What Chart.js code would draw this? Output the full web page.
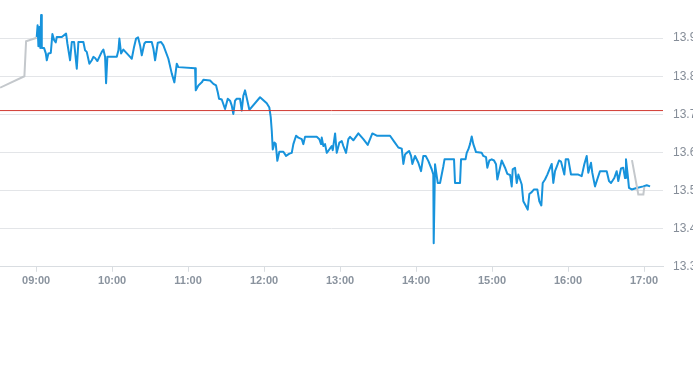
<!DOCTYPE html>
<html>
<head>
<meta charset="utf-8">
<script src="https://cdn.jsdelivr.net/npm/chart.js@4"></script>
<style>
html,body{margin:0;padding:0;background:#fff;}
#wrap{position:relative;width:693px;height:365px;}
</style>
</head>
<body>
<div id="wrap"><canvas id="c"></canvas></div>
<script>
// Intraday price (blue)
const priceTimes = [
"09:00:30","09:01:11","09:01:49","09:02:36","09:03:19","09:03:57","09:04:30","09:06:19","09:07:40","09:08:27",
"09:09:43","09:11:36","09:12:52","09:14:13","09:15:33","09:16:20","09:20:17","09:23:41","09:24:42","09:26:50",
"09:28:11","09:30:00","09:32:08","09:33:24","09:37:20","09:38:41","09:40:00","09:42:05","09:43:58","09:45:14",
"09:46:35","09:48:24","09:49:58","09:51:52","09:53:08","09:54:28","09:55:16","09:56:17","10:03:43","10:05:00",
"10:05:46","10:07:06","10:08:55","10:14:13","10:15:33","10:17:22","10:18:57","10:20:32","10:22:07","10:23:27",
"10:25:30","10:26:36","10:31:20","10:32:36","10:33:57","10:36:05","10:38:41","10:40:30","10:44:27","10:47:08",
"10:49:11","10:51:05","10:52:20","11:05:32","11:06:05","11:08:08","11:10:49","11:12:05","11:17:22","11:20:00",
"11:22:07","11:23:27","11:24:28","11:26:36","11:29:12","11:31:20","11:33:09","11:34:29","11:35:45","11:37:06",
"11:38:26","11:41:03","11:42:23","11:43:39","11:45:00","11:48:24","11:56:50","12:02:07","12:04:11","12:05:17",
"12:06:05","12:06:52","12:07:20","12:08:08","12:09:13","12:10:29","12:12:04","12:15:14","12:17:22","12:20:00",
"12:21:52","12:23:08","12:25:16","12:27:05","12:29:46","12:31:02","12:32:22","12:41:36","12:43:40","12:45:00",
"12:45:33","12:46:49","12:48:10","12:49:30","12:51:34","12:53:26","12:54:14","12:56:05","12:57:24","12:59:28",
"13:01:20","13:02:36","13:04:44","13:06:33","13:07:54","13:10:30","13:14:27","13:18:24","13:21:52","13:25:30",
"13:28:58","13:39:28","13:42:52","13:46:02","13:48:43","13:50:00","13:51:20","13:52:40","13:54:29","13:56:04",
"13:57:05","13:59:13","14:01:49","14:03:57","14:05:45","14:07:38","14:09:41","14:12:22","14:13:38","14:13:57",
"14:15:00","14:17:08","14:18:57","14:21:34","14:22:30","14:30:00","14:30:47","14:34:44","14:35:32","14:39:05",
"14:40:01","14:41:17","14:42:38","14:43:58","14:45:14","14:47:22","14:51:52","14:53:08","14:55:16","14:56:17",
"14:57:53","14:59:46","15:01:35","15:03:10","15:04:11","15:06:19","15:07:39","15:10:16","15:12:05","15:14:13",
"15:15:33","15:16:20","15:18:09","15:19:30","15:20:46","15:22:07","15:23:27","15:24:43","15:26:51","15:28:11",
"15:29:27","15:31:20","15:33:09","15:35:46","15:37:21","15:38:56","15:40:02","15:41:51","15:43:40","15:47:08",
"15:48:24","15:49:44","15:51:34","15:52:54","15:54:29","15:57:05","15:58:11","16:00:14","16:02:22","16:08:08",
"16:10:49","16:12:52","16:14:45","16:16:01","16:18:09","16:19:10","16:21:18","16:23:27","16:25:16","16:30:33",
"16:32:22","16:33:57","16:36:33","16:38:26","16:39:42","16:41:50","16:43:38","16:45:00","16:45:46","16:47:07",
"16:48:09","16:50:17","16:54:14","16:59:27","17:02:08","17:04:48"
];
const priceValues = [
13.903,13.934,13.879,13.929,13.874,13.961,13.874,13.874,13.860,13.842,
13.860,13.861,13.911,13.895,13.889,13.903,13.903,13.912,13.886,13.842,
13.890,13.890,13.820,13.890,13.890,13.868,13.864,13.833,13.842,13.851,
13.848,13.840,13.851,13.864,13.870,13.851,13.782,13.851,13.851,13.868,
13.899,13.860,13.870,13.851,13.846,13.877,13.899,13.902,13.881,13.855,
13.886,13.890,13.890,13.873,13.842,13.888,13.890,13.881,13.846,13.807,
13.784,13.833,13.824,13.821,13.763,13.776,13.784,13.791,13.789,13.780,
13.776,13.758,13.741,13.739,13.714,13.741,13.736,13.723,13.701,13.736,
13.741,13.741,13.710,13.749,13.763,13.712,13.745,13.729,13.718,13.692,
13.657,13.608,13.613,13.626,13.623,13.578,13.602,13.602,13.591,13.597,
13.599,13.622,13.644,13.639,13.635,13.622,13.641,13.641,13.635,13.622,
13.639,13.617,13.622,13.599,13.608,13.617,13.606,13.650,13.599,13.626,
13.630,13.617,13.599,13.635,13.641,13.632,13.650,13.635,13.620,13.650,
13.644,13.644,13.628,13.613,13.610,13.570,13.595,13.599,13.604,13.591,
13.570,13.591,13.573,13.551,13.591,13.591,13.578,13.556,13.542,13.362,
13.569,13.520,13.520,13.564,13.582,13.582,13.520,13.520,13.582,13.582,
13.599,13.608,13.622,13.642,13.622,13.601,13.599,13.591,13.588,13.560,
13.579,13.582,13.579,13.569,13.529,13.560,13.579,13.560,13.544,13.541,
13.511,13.556,13.560,13.520,13.542,13.529,13.516,13.472,13.459,13.450,
13.491,13.496,13.503,13.503,13.472,13.461,13.520,13.529,13.542,13.570,
13.520,13.551,13.567,13.579,13.576,13.542,13.582,13.582,13.542,13.542,
13.538,13.569,13.591,13.547,13.573,13.547,13.511,13.533,13.551,13.551,
13.525,13.520,13.533,13.551,13.525,13.558,13.560,13.533,13.582,13.542,
13.507,13.503,13.507,13.511,13.514,13.511
];
// Extended-hours price (gray)
const extTimesPre = ["08:31:35","08:50:46","08:52:06","09:00:33"];
const extValuesPre = [13.770,13.800,13.892,13.901];
const extTimesPost = ["16:50:30","16:55:30","16:59:30","17:00:15"];
const extValuesPost = [13.580,13.490,13.490,13.510];
// Previous close (red reference line)
const prevClose = 13.71;
// Axis ranges
const xStart = "08:31:30";
const xEnd = "17:15:00";
const yTickMin = 13.3;
const yTickMax = 13.9;

function toMin(t){const p=t.split(":").map(Number);return p[0]*60+p[1]+(p[2]||0)/60;}
function pts(ts,vs){return ts.map((t,i)=>({x:toMin(t),y:vs[i]}));}
const xMin = toMin(xStart), xMax = toMin(xEnd);

new Chart(document.getElementById('c'),{
  type:'line',
  data:{datasets:[
    {data:pts(extTimesPre,extValuesPre),borderColor:'#c4c8cc',borderWidth:2,pointRadius:0,tension:0},
    {data:pts(extTimesPost,extValuesPost),borderColor:'#c4c8cc',borderWidth:2,pointRadius:0,tension:0},
    {data:[{x:xMin,y:prevClose},{x:xMax,y:prevClose}],borderColor:'#d23a32',borderWidth:1,pointRadius:0},
    {data:pts(priceTimes,priceValues),borderColor:'#1793dc',borderWidth:2,pointRadius:0,tension:0,borderJoinStyle:'round'}
  ]},
  options:{
    responsive:true,maintainAspectRatio:false,animation:false,
    layout:{padding:{left:0,right:0,top:0,bottom:74}},
    plugins:{legend:{display:false},tooltip:{enabled:false}},
    scales:{
      x:{type:'linear',min:xMin,max:xMax,
        afterBuildTicks:s=>{const t=[];for(let m=540;m<=1020;m+=60)t.push({value:m});s.ticks=t;},
        grid:{drawOnChartArea:false,drawTicks:true,tickLength:5,color:'#d9dde1'},
        border:{display:true,color:'#d9dde1'},
        ticks:{autoSkip:false,maxRotation:0,padding:3,color:'#8a939e',font:{family:'Liberation Sans, Arial, sans-serif',size:11,weight:'bold'},
          callback:v=>{const h=Math.floor(v/60),m=Math.round(v%60);return String(h).padStart(2,'0')+':'+String(m).padStart(2,'0');}}
      },
      y:{position:'right',min:13.3,max:14.0,
        afterBuildTicks:s=>{const t=[];for(let v=yTickMin;v<=yTickMax+1e-9;v+=0.1)t.push({value:Math.round(v*10)/10});s.ticks=t;},
        afterFit:s=>{s.width=30;},
        grid:{color:'#e3e5e8',drawTicks:true,tickLength:10,tickColor:'rgba(0,0,0,0)'},
        border:{display:false},
        ticks:{padding:0,color:'#858d98',font:{family:'Liberation Sans, Arial, sans-serif',size:12,lineHeight:0.01},callback:v=>v.toFixed(1)}
      }
    }
  }
});
</script>
</body>
</html>
